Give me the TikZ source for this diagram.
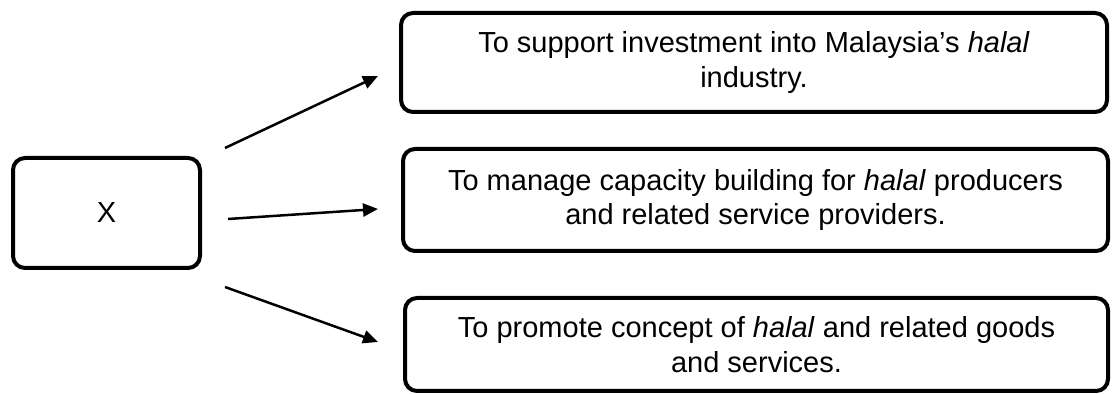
\documentclass[tikz,border=0pt]{standalone}
\usepackage{fontspec}
\setmainfont{Liberation Sans}
\usetikzlibrary{arrows.meta}

\tikzset{
  every box/.style={draw, line width=2pt, rounded corners=6pt, align=center,
    inner sep=0pt, font=\fontsize{14.5}{17.4}\selectfont},
}

\begin{document}
\begin{tikzpicture}[x=0.5pt, y=-0.5pt, >={Triangle[length=7.5pt,width=6.5pt]}]

\useasboundingbox (0,0) rectangle (1112,394);

\node [every box, minimum width=93.5pt, minimum height=55pt] (source) at (106.5,213) {X};

\node [every box, minimum width=353pt, minimum height=49.5pt] (aim-1) at (754,62.5)
  {To support investment into Malaysia's \textit{halal}\\industry.};

\node [every box, minimum width=352.5pt, minimum height=51pt] (aim-2) at (755.5,200)
  {To manage capacity building for \textit{halal} producers\\and related service providers.};

\node [every box, minimum width=351.5pt, minimum height=46.5pt] (aim-3) at (756.5,344.5)
  {To promote concept of \textit{halal} and related goods\\and services.};

\foreach \i/\sx/\sy/\ex/\ey in {1/225/148/378/76, 2/228/219/378/209, 3/225/287/378/342} {
  \coordinate (from-\i) at (\sx,\sy);
  \coordinate (to-\i) at (\ex,\ey);
  \draw [->, line width=1.25pt] (from-\i) -- (to-\i);
}

\end{tikzpicture}
\end{document}
